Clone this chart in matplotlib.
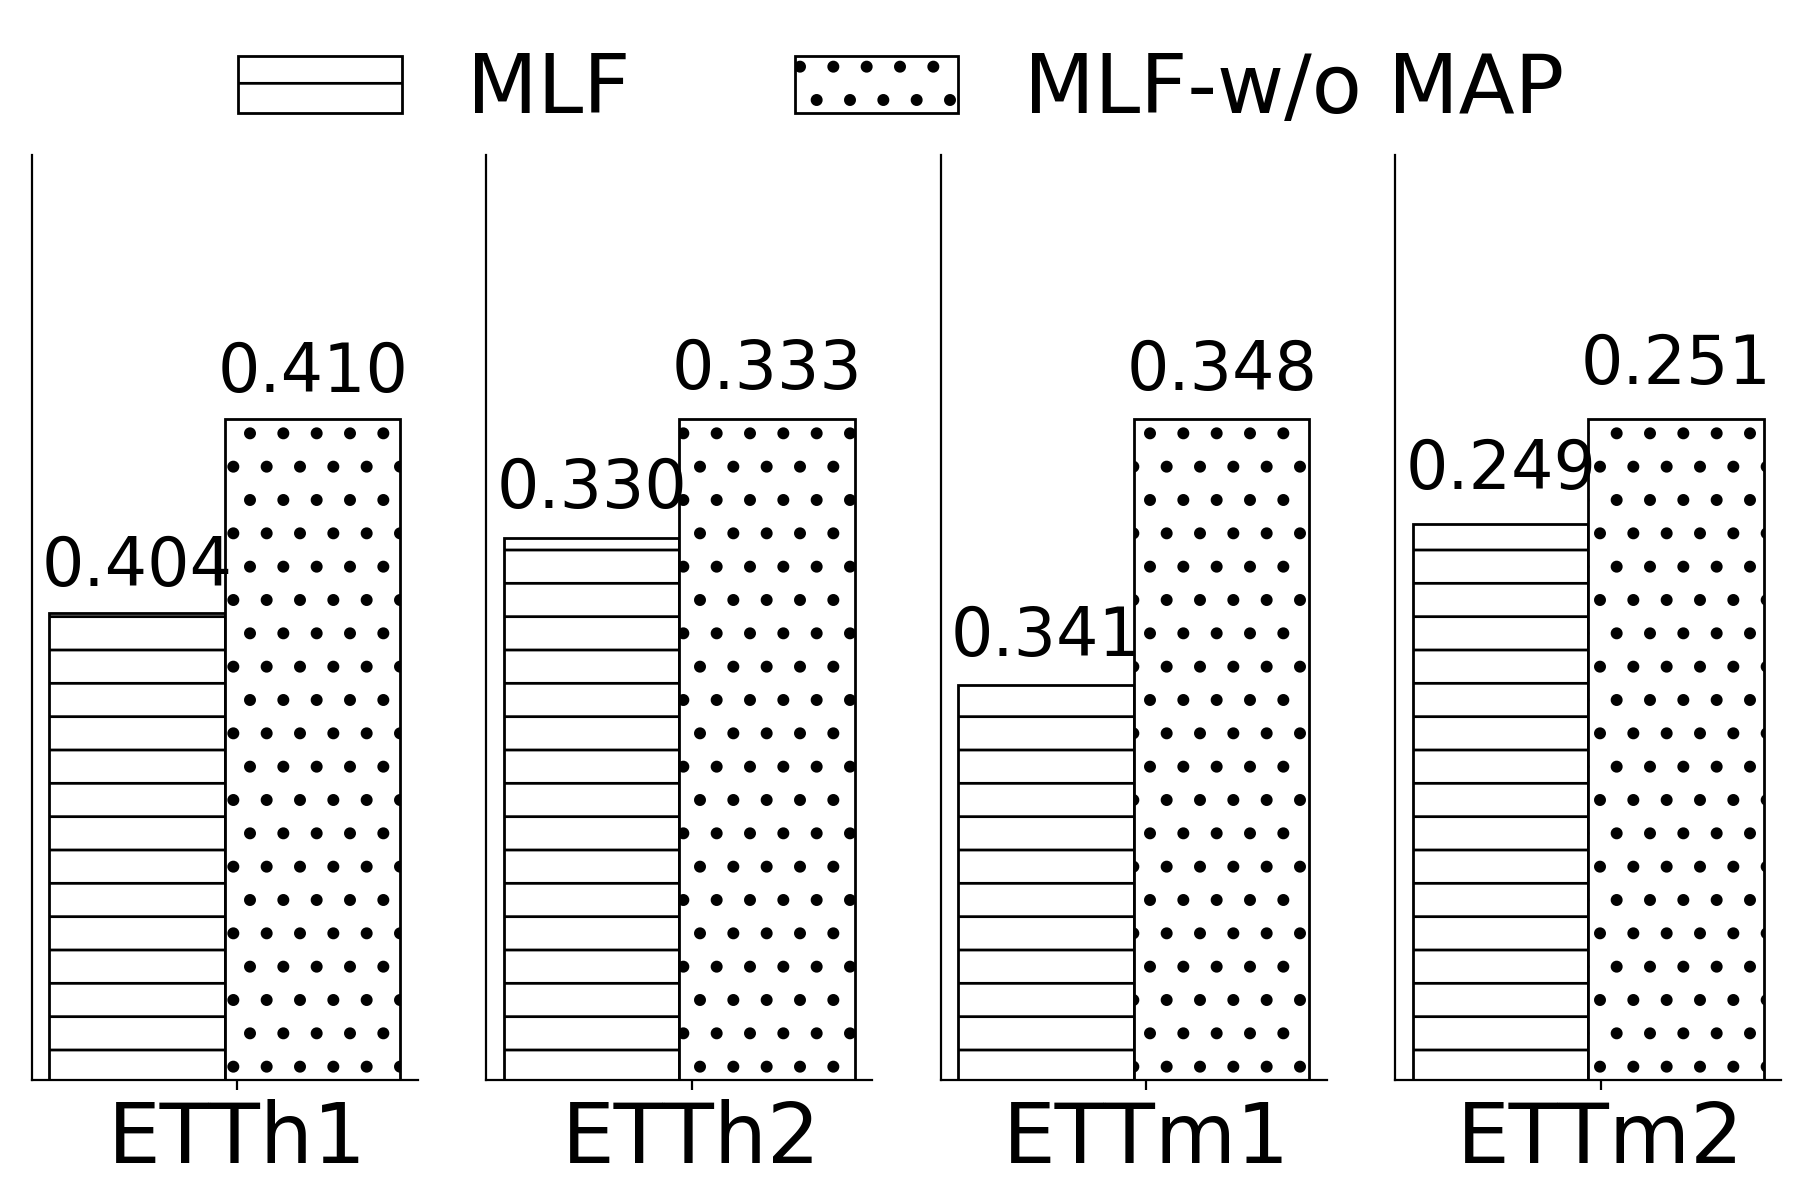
import matplotlib
matplotlib.use("Agg")
import matplotlib.pyplot as plt
import numpy as np

datasets = ["ETTh1", "ETTh2", "ETTm1", "ETTm2"]
mlf = [0.404, 0.330, 0.341, 0.249]
mlf_no_map = [0.410, 0.333, 0.348, 0.251]
labels = ["MLF", "MLF-w/o MAP"]

fig, axes = plt.subplots(1, 4, figsize=(9.01, 6), dpi=200)
fig.subplots_adjust(left=0.0176, right=0.9886, bottom=0.1, top=0.871, wspace=0.177)

DOT_LW = 1.9

for i, ax in enumerate(axes):
    vals = [mlf[i], mlf_no_map[i]]
    with plt.rc_context({"hatch.linewidth": 1.0}):
        b1 = ax.bar(0.5, vals[0], width=1, color="white", edgecolor="black",
                    hatch="-", linewidth=1, label=labels[0])
    # bigger dots, like the original
    with plt.rc_context({"hatch.linewidth": DOT_LW}):
        b2 = ax.bar(1.5, vals[1], width=1, color="white", edgecolor="black",
                    hatch=".", linewidth=1, label=labels[1])
    for p in b2.patches:
        if hasattr(p, "set_hatch_linewidth"):
            p.set_hatch_linewidth(DOT_LW)
    top = max(vals)
    ax.set_ylim(top * 0.95, top * 1.02)
    ax.set_xlim(-0.1, 2.1)
    for x, v in zip([0.5, 1.5], vals):
        ax.text(x, v + 0.0004, "%.3f" % v, ha="center", va="bottom", fontsize=24)
    ax.set_xticks([1.07])
    ax.set_xticklabels([datasets[i]], fontsize=30)
    ax.set_yticks([])
    ax.spines["top"].set_visible(False)
    ax.spines["right"].set_visible(False)

handles, lbls = axes[0].get_legend_handles_labels()
with plt.rc_context({"hatch.linewidth": DOT_LW}):
    leg = fig.legend(handles, lbls, loc="upper center", bbox_to_anchor=(0.5, 1.019),
                     ncol=2, frameon=False, fontsize=29.5)
for h in leg.legend_handles[:1]:
    if hasattr(h, "set_hatch_linewidth"):
        h.set_hatch_linewidth(1.0)

fig.savefig("out.png", dpi=200)
